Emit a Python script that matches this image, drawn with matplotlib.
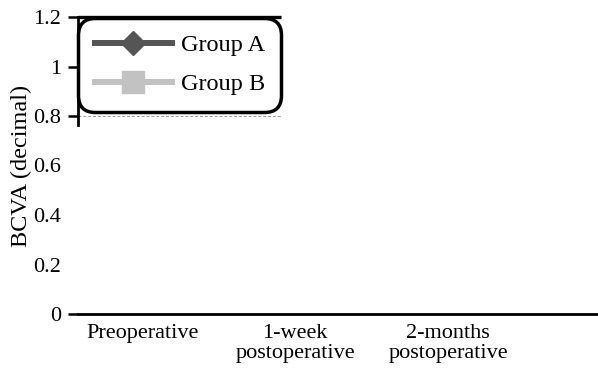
import numpy as np
import matplotlib
matplotlib.use("Agg")
import matplotlib.pyplot as plt
from matplotlib.lines import Line2D

plt.rcParams['font.family'] = ['Liberation Serif', 'DejaVu Serif']

categories = ["Preoperative", "1-week\npostoperative", "2-months\npostoperative"]
series_names = ["Group A", "Group B"]
group_a_values = [np.nan, np.nan, np.nan]
group_b_values = [np.nan, np.nan, np.nan]
y_ticks = [0, 0.2, 0.4, 0.6, 0.8, 1.0, 1.2]
y_tick_labels = ["0", "0.2", "0.4", "0.6", "0.8", "1", "1.2"]
reference_level = 0.8

color_a = "#555555"
color_b = "#c2c2c2"

W, H = 598, 368
fig = plt.figure(figsize=(W / 100, H / 100), dpi=100)
ax = fig.add_axes([78 / W, (H - 314) / H, 520 / W, (314 - 17) / H])

x = np.arange(len(categories))
ax.plot(x, np.array(group_a_values, dtype=float), color=color_a, lw=4.3,
        marker="D", ms=12, label=series_names[0])
ax.plot(x, np.array(group_b_values, dtype=float), color=color_b, lw=4.3,
        marker="s", ms=15.5, label=series_names[1])

ax.set_xlim(-0.42, 2.98)
ax.set_ylim(0, 1.2)
ax.set_xticks(x)
ax.set_xticklabels(categories, fontsize=16, linespacing=1.12)
ax.tick_params(axis="x", length=0, pad=7)
ax.set_yticks(y_ticks)
ax.set_yticklabels(y_tick_labels, fontsize=16)
ax.tick_params(axis="y", length=7, width=1.8, pad=5)
for t in ax.yaxis.get_major_ticks()[1:4]:
    t.tick1line.set_visible(False)

ax.set_ylabel("BCVA (decimal)", fontsize=17.5, labelpad=1)

for s in ("top", "right"):
    ax.spines[s].set_visible(False)
ax.spines["bottom"].set_linewidth(2.0)
ax.spines["left"].set_linewidth(2.0)
ax.spines["left"].set_bounds(0.765, 1.2)

# upper panel frame: top edge and dashed reference line
x0, x1 = ax.get_xlim()
x_right = x0 + (281 - 78) / 520 * (x1 - x0)
ax.plot([x0, x_right], [1.2, 1.2], color="black", lw=2.4,
        clip_on=False, solid_capstyle="butt")
ax.plot([x0, x_right], [reference_level, reference_level],
        color="#999999", lw=0.7, ls=(0, (3, 2)), clip_on=False)

handles = [
    Line2D([], [], color=color_a, lw=4.3, marker="D", ms=12, label=series_names[0]),
    Line2D([], [], color=color_b, lw=4.3, marker="s", ms=15.5, label=series_names[1]),
]
leg = ax.legend(handles=handles, loc="upper left", bbox_to_anchor=(0.0, 0.997),
                fontsize=17.5, handlelength=3.2, handletextpad=0.35,
                labelspacing=0.7, borderpad=0.68, borderaxespad=0.0,
                fancybox=True, framealpha=1, edgecolor="black")
leg.get_frame().set_linewidth(2.5)
leg.get_frame().set_boxstyle("round,pad=0,rounding_size=0.7")

fig.savefig("out.png", dpi=100)
